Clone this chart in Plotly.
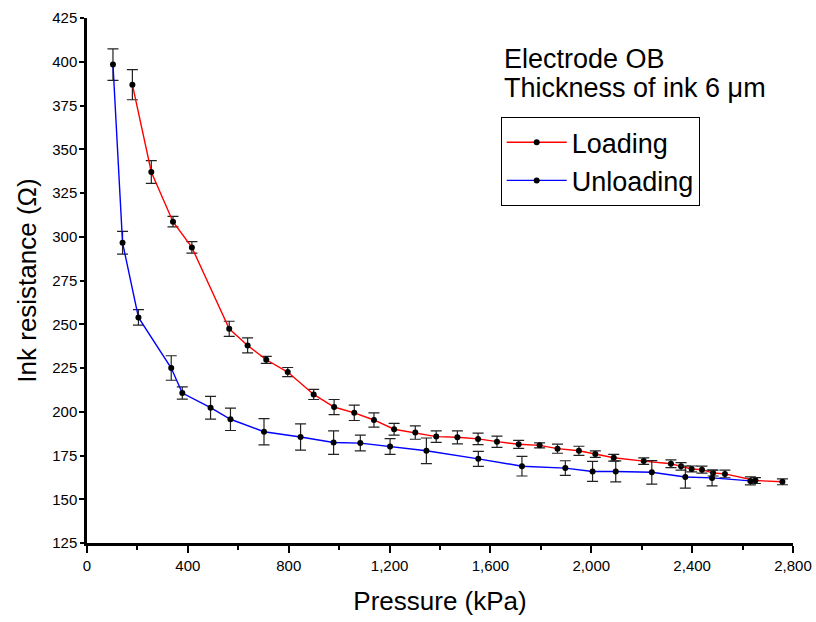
import plotly.graph_objects as go

# Loading (red)
load_p = [180, 255, 341, 416, 564, 637, 711, 796, 899, 980, 1060, 1138, 1218, 1302, 1385,
          1469, 1551, 1626, 1712, 1795, 1866, 1951, 2016, 2089, 2208, 2316, 2356, 2398,
          2439, 2483, 2530, 2651, 2758]
load_r = [386.9, 337.0, 308.6, 293.9, 247.4, 237.9, 229.7, 222.7, 209.9, 202.7, 199.4, 195.3,
          190.0, 188.1, 185.8, 185.4, 184.5, 182.9, 181.4, 180.8, 178.9, 177.7, 175.8, 173.7,
          171.8, 170.3, 168.8, 167.3, 166.9, 165.0, 164.5, 160.7, 160.0]
load_e = [8.6, 6.5, 3.0, 3.3, 4.3, 4.3, 2.0, 2.6, 2.9, 4.3, 4.4, 4.1, 3.4, 3.8, 3.3, 3.7, 3.3,
          3.2, 2.3, 1.4, 2.6, 2.6, 1.9, 1.9, 1.9, 2.2, 2.1, 1.7, 2.0, 1.7, 2.2, 1.7, 1.7]

# Unloading (blue)
unload_p = [103, 141, 204, 334, 378, 490, 569, 702, 847, 978, 1084, 1202, 1346, 1552, 1725,
            1897, 2005, 2097, 2240, 2373, 2479, 2631]
unload_r = [398.4, 296.6, 253.9, 225.0, 210.7, 202.3, 195.7, 188.6, 185.6, 182.4, 182.1, 180.2,
            177.7, 173.1, 168.9, 167.8, 165.9, 165.9, 165.4, 162.7, 162.2, 160.5]
unload_e = [9.0, 6.5, 4.4, 7.0, 3.5, 6.5, 6.4, 7.5, 7.5, 6.7, 4.5, 4.5, 7.3, 4.3, 5.6, 4.2,
            5.7, 6.0, 6.7, 6.3, 4.5, 2.3]

x_ticks = [0, 400, 800, 1200, 1600, 2000, 2400, 2800]
y_ticks = [125, 150, 175, 200, 225, 250, 275, 300, 325, 350, 375, 400, 425]

FONT = "Liberation Sans, Arial, sans-serif"

fig = go.Figure()
for name, xs, ys, es, col in [("Loading", load_p, load_r, load_e, "#ff0000"),
                              ("Unloading", unload_p, unload_r, unload_e, "#0000ff")]:
    fig.add_trace(go.Scatter(
        x=xs, y=ys, name=name, mode="lines+markers",
        line=dict(color=col, width=1.4),
        marker=dict(color="black", size=6),
        error_y=dict(type="data", array=es, visible=True, color="#222222",
                     thickness=1.2, width=5.5),
    ))

# overlay axis for the longer ticks every 50
fig.add_trace(go.Scatter(x=[None], y=[None], yaxis="y2", showlegend=False, hoverinfo="skip"))

fig.update_layout(
    width=816, height=622,
    margin=dict(l=87, r=23, t=18, b=79),
    paper_bgcolor="white", plot_bgcolor="white",
    font=dict(family=FONT, color="black"),
    showlegend=True,
    legend=dict(x=0.586, y=0.811, xanchor="left", yanchor="top",
                bordercolor="black", borderwidth=1, bgcolor="white",
                font=dict(size=27, family=FONT), itemwidth=60, tracegroupgap=0),
    xaxis=dict(range=[0, 2800], tickvals=x_ticks, tickformat=",d", automargin=False,
               showline=True, linecolor="black", linewidth=2.5,
               ticks="outside", ticklen=7, tickwidth=1.5, tickcolor="black",
               minor=dict(dtick=200, ticklen=4, tickwidth=1.5, tickcolor="black", ticks="outside"),
               showgrid=False, zeroline=False,
               tickfont=dict(size=15, family=FONT),
               title=dict(text="Pressure (kPa)", font=dict(size=26, family=FONT), standoff=20)),
    yaxis=dict(range=[125, 425], tickvals=y_ticks, automargin=False,
               showline=True, linecolor="black", linewidth=2.5,
               ticks="outside", ticklen=4, tickwidth=1.5, tickcolor="black",
               showgrid=False, zeroline=False,
               tickfont=dict(size=15, family=FONT),
               title=dict(text="Ink resistance (\u03a9)", font=dict(size=26, family=FONT), standoff=9)),
    yaxis2=dict(range=[125, 425], overlaying="y", side="left", tick0=0, dtick=50, automargin=False,
                showticklabels=False, ticks="outside", ticklen=7, tickwidth=1.5,
                tickcolor="black", showline=False, showgrid=False, zeroline=False),
    annotations=[
        dict(text="Electrode OB", x=0.588, y=0.921, xref="paper", yref="paper",
             xanchor="left", yanchor="middle", showarrow=False,
             font=dict(size=27, family=FONT)),
        dict(text="Thickness of ink 6 \u03bcm", x=0.588, y=0.866, xref="paper", yref="paper",
             xanchor="left", yanchor="middle", showarrow=False,
             font=dict(size=27, family=FONT)),
    ],
)

fig.write_html("out.html", config={"displayModeBar": False},
               post_script="document.body.style.margin='0';")
